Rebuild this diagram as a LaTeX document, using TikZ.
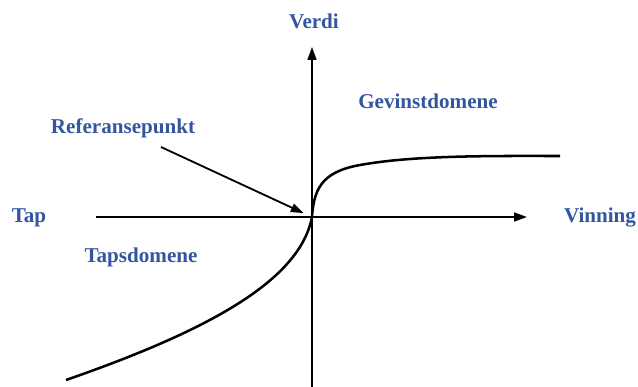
\documentclass[tikz,border=0pt]{standalone}
\usepackage{fontspec}
\setmainfont{Liberation Serif}
\usetikzlibrary{arrows.meta}
\definecolor{labelblue}{RGB}{52,86,160}

\begin{document}
\begin{tikzpicture}[x=0.025cm,y=-0.025cm,
  lbl/.style={text=labelblue,font=\fontsize{15}{18}\selectfont\bfseries,inner sep=0pt},
  axis/.style={-{Triangle[length=3.2mm,width=2.2mm]},line width=1.4pt},
  valcurve/.style={line width=1.8pt},
  pointer/.style={-{Triangle[length=3.2mm,width=2.2mm]},line width=1.3pt,shorten >=2.3mm}]
  \useasboundingbox (0,0) rectangle (638,387);
  % axes
  \coordinate (o)  at (312,217);
  \coordinate (xl) at (96,217);
  \coordinate (xr) at (527,217);
  \coordinate (yb) at (312,387);
  \coordinate (yt) at (312,47);
  \draw[axis] (xl) -- (xr);
  \draw[axis] (yb) -- (yt);
  % labels
  \node[lbl] (verdi)   at (314,21)  {Verdi};
  \node[lbl] (gevinst) at (428,101) {Gevinstdomene};
  \node[lbl] (ref)     at (123,128) {Referansepunkt};
  \node[lbl] (tap)     at (29,218)  {Tap};
  \node[lbl] (vinning) at (600,218) {Vinning};
  \node[lbl] (taps)    at (141,257) {Tapsdomene};
  % value function
  \coordinate (gend) at (560,156);
  \coordinate (lend) at (66,380);
  \draw[valcurve] (o) .. controls (314,185) and (325,170) .. (366,164)
                      .. controls (420,155) and (500,156) .. (gend);
  \draw[valcurve] (o) .. controls (300,280) and (210,330) .. (lend);
  % reference point
  \coordinate (rs) at (161,147);
  \draw[pointer] (rs) -- (o);
\end{tikzpicture}
\end{document}
